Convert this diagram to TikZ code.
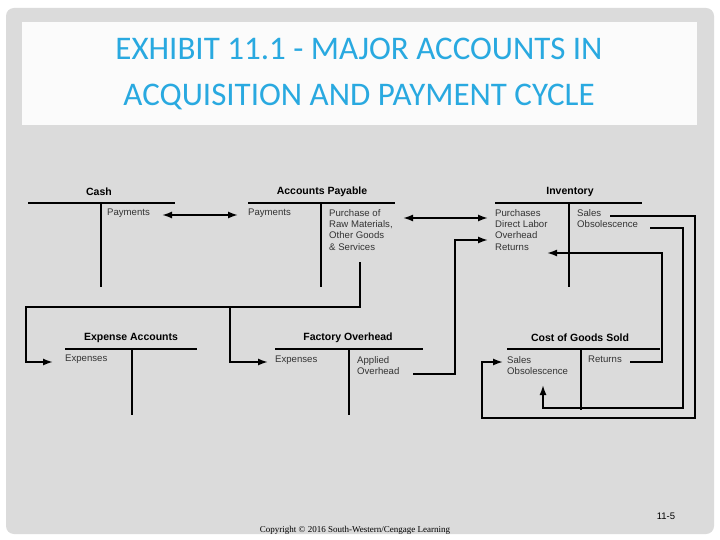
\documentclass[tikz,border=0pt]{standalone}
\usepackage{fontspec}
\setmainfont{Liberation Sans}
\newfontfamily\titlefont{Carlito}
\newfontfamily\serifc{Liberation Serif}
\usetikzlibrary{arrows.meta}
\begin{document}
\begin{tikzpicture}[x=1pt,y=-1pt,
  tl/.style={line width=1.4pt},
  cn/.style={line width=1.7pt},
  arr/.style={cn,-{Latex[length=10pt,width=7pt]}},
  ttl/.style={font=\bfseries\fontsize{10.5}{11}\selectfont},
  lab/.style={font=\fontsize{9.6}{11.4}\selectfont,anchor=north west,inner sep=0pt,align=left,text=black!80}]
\useasboundingbox (0,0) rectangle (720,540);
\fill[white] (0,0) rectangle (720,540);
\fill[gray!28,rounded corners=8pt] (6,8) rectangle (714,534);
\fill[white,opacity=0.9] (22,22) rectangle (697,125);
\node[text={rgb,255:red,41;green,169;blue,224},font=\titlefont\fontsize{33}{46}\selectfont,align=center] (title) at (359,74) {EXHIBIT 11.1 - MAJOR ACCOUNTS IN\\ACQUISITION AND PAYMENT CYCLE};
% T accounts
\node[ttl] (tcash) at (99,192) {Cash};
\draw[tl] (28,203) -- (175,203) (101,203) -- (101,287);
\node[ttl] (tap) at (322,192) {Accounts Payable};
\draw[tl] (248,203) -- (395,203) (321,203) -- (321,287);
\node[ttl] (tinv) at (570,192) {Inventory};
\draw[tl] (495,203) -- (642,203) (569,203) -- (569,287);
\node[ttl] (texp) at (131,338) {Expense Accounts};
\draw[tl] (65,349) -- (197,349) (132,349) -- (132,415);
\node[ttl] (tfo) at (348,338) {Factory Overhead};
\draw[tl] (275,349) -- (423,349) (349,349) -- (349,415);
\node[ttl] (tcgs) at (580,338) {Cost of Goods Sold};
\draw[tl] (507,349) -- (660,349) (581,349) -- (581,410);
% labels
\node[lab] (cpay) at (107,209) {Payments};
\node[lab] (appay) at (248,209) {Payments};
\node[lab] (appur) at (329,209) {Purchase of\\Raw Materials,\\Other Goods\\\& Services};
\node[lab] (ipur) at (495,209) {Purchases\\Direct Labor\\Overhead\\Returns};
\node[lab] (isal) at (577,209) {Sales\\Obsolescence};
\node[lab] (eexp) at (65,355) {Expenses};
\node[lab] (fexp) at (275,356) {Expenses};
\node[lab] (fapp) at (357,356) {Applied\\Overhead};
\node[lab] (csal) at (507,356) {Sales\\Obsolescence};
\node[lab] (cret) at (588,356) {Returns};
% connectors
\draw[cn,{Latex[length=10pt,width=7pt]}-{Latex[length=10pt,width=7pt]}] (162,215) -- (238,215);
\draw[cn,{Latex[length=10pt,width=7pt]}-{Latex[length=10pt,width=7pt]}] (403,218) -- (488,218);
\coordinate (pb) at (360,262);
\draw[arr] (pb) -- (360,307) -- (26,307) -- (26,362) -- (53,362);
\draw[arr] (230,307) -- (230,362) -- (268,362);
\draw[arr] (413,374) -- (455,374) -- (455,240) -- (488,240);
\draw[arr] (610,216) -- (695,216) -- (695,418) -- (482,418) -- (482,362) -- (503,362);
\draw[arr] (650,228) -- (683,228) -- (683,408) -- (543,408) -- (543,385);
\draw[arr] (630,362) -- (662,362) -- (662,253) -- (547,253);
\node[font=\fontsize{9.5}{10}\selectfont] (pg) at (666,516) {11-5};
\node[font=\serifc\fontsize{9}{10}\selectfont] (copy) at (355,530) {Copyright © 2016 South-Western/Cengage Learning};
\end{tikzpicture}
\end{document}
